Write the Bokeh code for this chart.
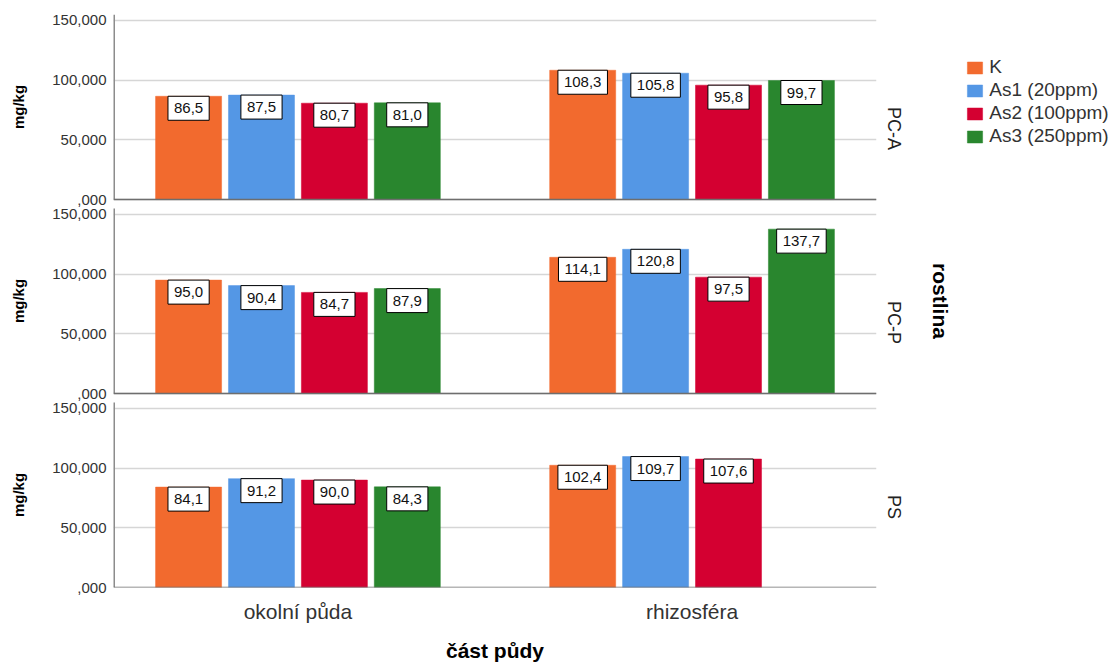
import math
from bokeh.plotting import figure
from bokeh.models import (ColumnDataSource, Range1d, FixedTicker, LinearAxis,
                          Span, Legend, LegendItem)
from bokeh.core.properties import value
from bokeh.embed import file_html
from bokeh.resources import INLINE

# --- data -------------------------------------------------------------
soil_parts = ["okolní půda", "rhizosféra"]
treatments = ["K", "As1 (20ppm)", "As2 (100ppm)", "As3 (250ppm)"]
plants = ["PC-A", "PC-P", "PS"]

# mean content (mg/kg) per plant: [okolní půda, rhizosféra] for each treatment
pca_k = [86.5, 108.3]
pca_as1 = [87.5, 105.8]
pca_as2 = [80.7, 95.8]
pca_as3 = [81.0, 99.7]

pcp_k = [95.0, 114.1]
pcp_as1 = [90.4, 120.8]
pcp_as2 = [84.7, 97.5]
pcp_as3 = [87.9, 137.7]

ps_k = [84.1, 102.4]
ps_as1 = [91.2, 109.7]
ps_as2 = [90.0, 107.6]
ps_as3 = [84.3, None]

y_ticks = [0, 50, 100, 150]
y_tick_labels = [",000", "50,000", "100,000", "150,000"]

colors = ["#F26A2E", "#5497E5", "#D40031", "#29862E"]

panel_values = {
    "PC-A": [pca_k, pca_as1, pca_as2, pca_as3],
    "PC-P": [pcp_k, pcp_as1, pcp_as2, pcp_as3],
    "PS": [ps_k, ps_as1, ps_as2, ps_as3],
}

# --- layout of the stacked panels ------------------------------------------
FONT = "Liberation Sans"
BAR_STEP = 0.185
BAR_WIDTH = 0.1675
X_RANGE = (-0.468, 1.468)
PANEL_SPAN = 155          # visible value span of one panel
PANEL_PITCH = 162.5       # panel span plus the gap between panels
TOTAL = 2 * PANEL_PITCH + PANEL_SPAN
# vertical offset of each panel inside the shared frame (bottom panel = 0)
offsets = {"PC-A": 2 * PANEL_PITCH, "PC-P": PANEL_PITCH, "PS": 0}


def num(v):
    return int(v) if float(v).is_integer() else v


def fmt(v):
    return f"{v:.1f}".replace(".", ",")


p = figure(
    frame_width=763, frame_height=573,
    x_range=Range1d(*X_RANGE), y_range=Range1d(0, TOTAL),
    min_border_left=113, min_border_right=242,
    min_border_top=14, min_border_bottom=77,
    output_backend="svg", toolbar_location=None,
)
p.outline_line_color = None
p.background_fill_color = "white"
p.border_fill_color = "white"

# one y range per panel, so each panel maps its own 0..155 onto its strip
for name, off in offsets.items():
    p.extra_y_ranges[name] = Range1d(-off, TOTAL - off)

# tick positions of all panels in the shared frame
all_ticks, overrides = [], {}
for name, off in offsets.items():
    for t, s in zip(y_ticks, y_tick_labels):
        k = num(off + t)
        all_ticks.append(k)
        overrides[k] = s

p.xgrid.grid_line_color = None
p.ygrid.ticker = FixedTicker(ticks=all_ticks)
p.ygrid.grid_line_color = "#d6d6d6"
p.ygrid.grid_line_width = 1.5

yax = p.yaxis[0]
yax.ticker = FixedTicker(ticks=all_ticks)
yax.major_label_overrides = overrides
yax.major_tick_line_color = None
yax.minor_tick_line_color = None
yax.major_tick_out = 0
yax.axis_line_color = None
yax.major_label_standoff = 7
yax.major_label_text_font = FONT
yax.major_label_text_font_size = "15px"
yax.major_label_text_color = "#333333"

centers = {name: num(off + PANEL_SPAN / 2) for name, off in offsets.items()}

# "mg/kg" title for each panel
unit_axis = LinearAxis(
    ticker=FixedTicker(ticks=list(centers.values())),
    major_label_overrides={c: "mg/kg" for c in centers.values()},
    major_label_orientation="vertical",
    axis_line_color=None, major_tick_line_color=None, minor_tick_line_color=None,
    major_tick_out=0, major_label_standoff=23,
    major_label_text_font=FONT, major_label_text_font_size="15px",
    major_label_text_font_style="bold", major_label_text_color="black",
)
p.add_layout(unit_axis, "left")

# panel names and the row variable on the right
facet_axis = LinearAxis(
    ticker=FixedTicker(ticks=list(centers.values())),
    major_label_overrides={c: n for n, c in centers.items()},
    major_label_orientation=-math.pi / 2,
    axis_line_color=None, major_tick_line_color=None, minor_tick_line_color=None,
    major_tick_out=0, major_label_standoff=17,
    major_label_text_font=FONT, major_label_text_font_size="18px",
    major_label_text_color="#222222",
    axis_label="rostlina", axis_label_standoff=12,
    axis_label_text_font=FONT, axis_label_text_font_size="21px",
    axis_label_text_font_style="bold", axis_label_text_color="black",
)
p.add_layout(facet_axis, "right")

xax = p.xaxis[0]
xax.ticker = FixedTicker(ticks=[0, 1])
xax.major_label_overrides = {0: soil_parts[0], 1: soil_parts[1]}
xax.major_tick_line_color = None
xax.minor_tick_line_color = None
xax.major_tick_out = 0
xax.major_label_standoff = 12
xax.major_label_text_font = FONT
xax.major_label_text_font_size = "21px"
xax.major_label_text_color = "#333333"
xax.axis_line_color = None
xax.axis_label = "část půdy"
xax.axis_label_text_font = FONT
xax.axis_label_text_font_style = "bold"
xax.axis_label_text_font_size = "21px"
xax.axis_label_text_color = "black"
xax.axis_label_standoff = 13

legend_renderers = []
for name in plants:
    # left axis line and baseline of the panel
    p.segment(x0=[X_RANGE[0]], y0=[0], x1=[X_RANGE[0]], y1=[PANEL_SPAN],
              y_range_name=name, line_color="#8c8c8c", line_width=3)
    p.add_layout(Span(location=0, dimension="width", y_range_name=name,
                      line_color="#6e6e6e", line_width=1.5))
    for i, vals in enumerate(panel_values[name]):
        xs, tops, texts = [], [], []
        for c, v in enumerate(vals):
            if v is None:
                continue
            xs.append(c + (i - 1.5) * BAR_STEP)
            tops.append(v)
            texts.append(fmt(v))
        src = ColumnDataSource(dict(x=xs, top=tops, text=texts))
        r = p.vbar(x="x", top="top", width=BAR_WIDTH, bottom=0, source=src,
                   y_range_name=name, fill_color=colors[i],
                   line_color=colors[i], line_width=0.5)
        if name == "PC-A":
            legend_renderers.append(r)
        # boxed value label hanging from the top of each bar
        p.text(x="x", y="top", text="text", source=src, y_range_name=name,
               text_align="center", text_baseline="top", y_offset=0,
               text_font=value(FONT), text_font_size="15px", text_color="#111111",
               background_fill_color="white", border_line_color="black",
               border_line_width=1,
               padding=dict(left=6, right=6, top=7, bottom=7))

legend = Legend(
    items=[LegendItem(label=t, renderers=[r])
           for t, r in zip(treatments, legend_renderers)],
    location=(-229, 440),
    padding=0, margin=0, spacing=1,
    glyph_width=19, glyph_height=15, label_height=21, label_standoff=5,
    label_text_font=FONT, label_text_font_size="19px", label_text_color="#333333",
    border_line_color=None, background_fill_alpha=0,
)
p.add_layout(legend, "right")

open("out.html", "w").write(file_html(p, INLINE))
